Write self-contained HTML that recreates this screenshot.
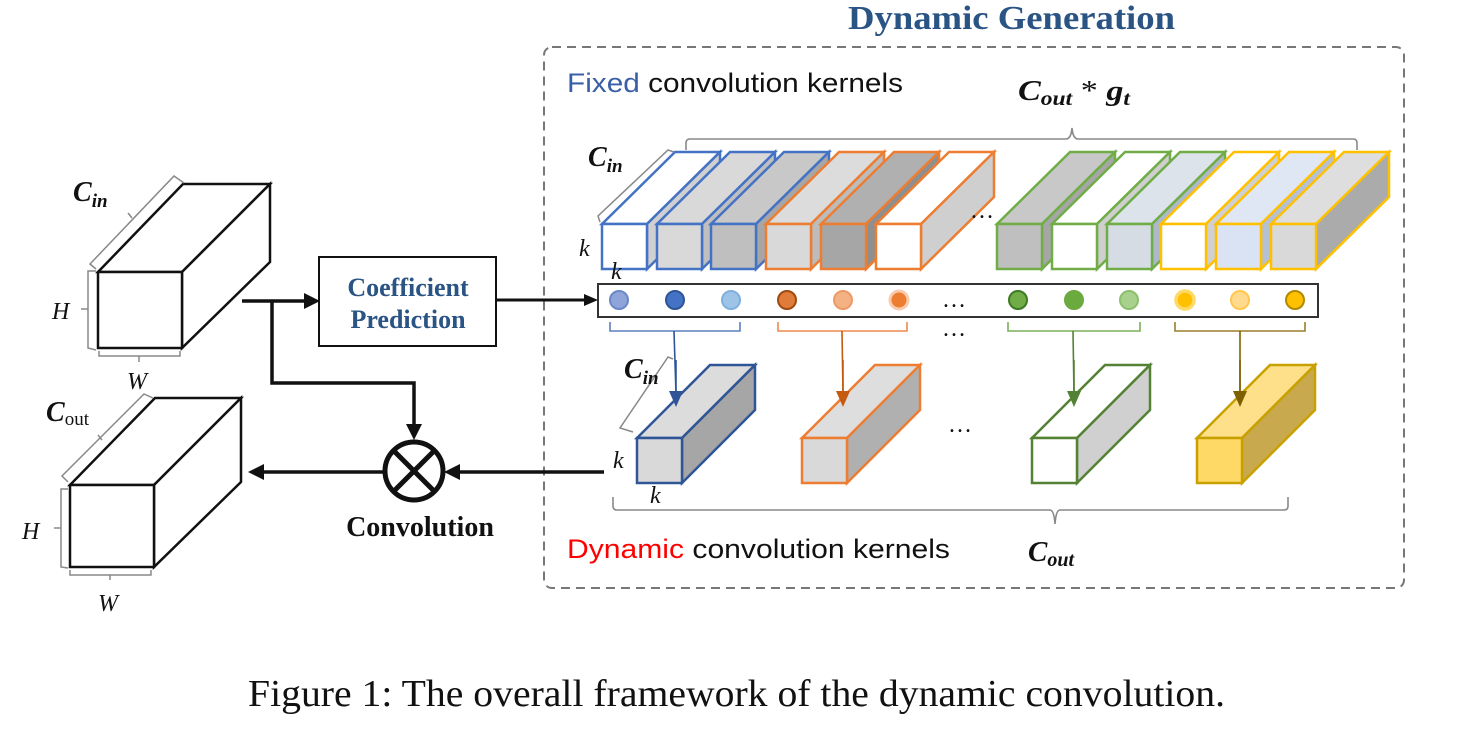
<!DOCTYPE html>
<html><head><meta charset="utf-8"><style>
html,body{margin:0;padding:0;background:#fff;}
svg{display:block;}
.sans{font-family:"Liberation Sans","DejaVu Sans",sans-serif;}
.serif{font-family:"Liberation Serif","DejaVu Serif",serif;}
.m{font-family:"Liberation Serif","DejaVu Serif",serif;font-style:italic;}
</style></head><body>
<svg width="1460" height="732" viewBox="0 0 1460 732" xmlns="http://www.w3.org/2000/svg">

<!-- title -->
<text x="848" y="29" textLength="327" lengthAdjust="spacingAndGlyphs" class="serif" font-weight="bold" font-size="34" fill="#2a5484">Dynamic Generation</text>
<!-- dashed box -->
<rect x="544" y="47" width="860" height="541" rx="8" fill="none" stroke="#777" stroke-width="2" stroke-dasharray="9,6"/>

<text x="567" y="92" textLength="336" lengthAdjust="spacingAndGlyphs" class="sans" font-size="27"><tspan fill="#3a5fa8">Fixed</tspan> <tspan fill="#111">convolution kernels</tspan></text>
<text x="1018" y="100" textLength="112" lengthAdjust="spacingAndGlyphs" class="m" font-weight="bold" font-size="29" fill="#111">C<tspan font-size="20" dy="5">out</tspan><tspan dy="-5" font-style="normal" font-weight="normal"> * </tspan>g<tspan font-size="20" dy="5">t</tspan></text>
<!-- top brace -->
<path d="M686,150 L686,143 Q686,139 690,139 L1066,139 Q1071,139 1072,128 Q1073,139 1078,139 L1353,139 Q1357,139 1357,143 L1357,150" fill="none" stroke="#888" stroke-width="1.6"/>

<g stroke-width="2.5">
<g stroke="#4472c4"><polygon points="602,224 675,152 720,152 647,224" fill="#fff"/><polygon points="647,224 720,152 720,197 647,269" fill="#d0d0d0"/><rect x="602" y="224" width="45" height="45" fill="#fff"/></g>
<g stroke="#4472c4"><polygon points="657,224 730,152 775,152 702,224" fill="#d9d9d9"/><polygon points="702,224 775,152 775,197 702,269" fill="#bfbfbf"/><rect x="657" y="224" width="45" height="45" fill="#d9d9d9"/></g>
<g stroke="#4472c4"><polygon points="711,224 784,152 829,152 756,224" fill="#c8c8c8"/><polygon points="756,224 829,152 829,197 756,269" fill="#a6a6a6"/><rect x="711" y="224" width="45" height="45" fill="#bfbfbf"/></g>
<g stroke="#ed7d31"><polygon points="766,224 839,152 884,152 811,224" fill="#dcdcdc"/><polygon points="811,224 884,152 884,197 811,269" fill="#bcbcbc"/><rect x="766" y="224" width="45" height="45" fill="#d9d9d9"/></g>
<g stroke="#ed7d31"><polygon points="821,224 894,152 939,152 866,224" fill="#b0b0b0"/><polygon points="866,224 939,152 939,197 866,269" fill="#8f8f8f"/><rect x="821" y="224" width="45" height="45" fill="#a6a6a6"/></g>
<g stroke="#ed7d31"><polygon points="876,224 949,152 994,152 921,224" fill="#fff"/><polygon points="921,224 994,152 994,197 921,269" fill="#cfcfcf"/><rect x="876" y="224" width="45" height="45" fill="#fff"/></g>
<g stroke="#70ad47"><polygon points="997,224 1070,152 1115,152 1042,224" fill="#c8c8c8"/><polygon points="1042,224 1115,152 1115,197 1042,269" fill="#a6a6a6"/><rect x="997" y="224" width="45" height="45" fill="#bfbfbf"/></g>
<g stroke="#70ad47"><polygon points="1052,224 1125,152 1170,152 1097,224" fill="#fff"/><polygon points="1097,224 1170,152 1170,197 1097,269" fill="#cfcfcf"/><rect x="1052" y="224" width="45" height="45" fill="#fff"/></g>
<g stroke="#70ad47"><polygon points="1107,224 1180,152 1225,152 1152,224" fill="#dde3ea"/><polygon points="1152,224 1225,152 1225,197 1152,269" fill="#adb9ca"/><rect x="1107" y="224" width="45" height="45" fill="#d6dce4"/></g>
<g stroke="#ffc000"><polygon points="1161,224 1234,152 1279,152 1206,224" fill="#fff"/><polygon points="1206,224 1279,152 1279,197 1206,269" fill="#d0d0d0"/><rect x="1161" y="224" width="45" height="45" fill="#fff"/></g>
<g stroke="#ffc000"><polygon points="1216,224 1289,152 1334,152 1261,224" fill="#dfe7f5"/><polygon points="1261,224 1334,152 1334,197 1261,269" fill="#b4c0d6"/><rect x="1216" y="224" width="45" height="45" fill="#dae3f3"/></g>
<g stroke="#ffc000"><polygon points="1271,224 1344,152 1389,152 1316,224" fill="#dedede"/><polygon points="1316,224 1389,152 1389,197 1316,269" fill="#ababab"/><rect x="1271" y="224" width="45" height="45" fill="#d9d9d9"/></g>
</g>
<text x="970" y="218" class="serif" font-size="24" fill="#111">…</text>
<path d="M600,222 L598,216 L668,150 L674,152" fill="none" stroke="#888" stroke-width="1.5"/>
<text x="588" y="166" class="m" font-weight="bold" font-size="28" fill="#111">C<tspan font-size="19" dy="6">in</tspan></text>
<text x="579" y="256" class="m" font-size="24" fill="#111">k</text>
<text x="611" y="279" class="m" font-size="24" fill="#111">k</text>

<!-- coefficient bar -->
<rect x="598" y="284" width="720" height="33" fill="#fff" stroke="#333" stroke-width="2"/>
<g stroke-width="2">
<circle cx="619" cy="300" r="9" fill="#8fa4d8" stroke="#6a88c8"/>
<circle cx="675" cy="300" r="9" fill="#4472c4" stroke="#2f5597"/>
<circle cx="731" cy="300" r="9" fill="#9dc3e6" stroke="#7fb0de"/>
<circle cx="787" cy="300" r="9" fill="#e07b39" stroke="#a04a10"/>
<circle cx="843" cy="300" r="9" fill="#f4b183" stroke="#ed9a66"/>
<circle cx="899" cy="300" r="9" fill="#ed7d31" stroke="#f8cbad" stroke-width="3"/>
<circle cx="1018" cy="300" r="9" fill="#70ad47" stroke="#3f7a24"/>
<circle cx="1074" cy="300" r="9" fill="#6aaa3f" stroke="#6aaa3f"/>
<circle cx="1129" cy="300" r="9" fill="#a9d18e" stroke="#8cc06e"/>
<circle cx="1185" cy="300" r="9" fill="#ffc000" stroke="#ffd966" stroke-width="3.5"/>
<circle cx="1240" cy="300" r="9" fill="#ffd98e" stroke="#ffc84a"/>
<circle cx="1295" cy="300" r="9" fill="#ffc000" stroke="#b08a00"/>
</g>
<text x="942" y="307" class="serif" font-size="24" fill="#111">…</text>
<text x="942" y="336" class="serif" font-size="24" fill="#111">…</text>

<g fill="none" stroke-width="1.6">
<path d="M610,322 L610,331 L740,331 L740,322" stroke="#5b7fc0"/>
<path d="M778,322 L778,331 L907,331 L907,322" stroke="#ed8a4d"/>
<path d="M1008,322 L1008,331 L1140,331 L1140,322" stroke="#7caf5a"/>
<path d="M1175,322 L1175,331 L1305,331 L1305,322" stroke="#9c7e2a"/>
<line x1="674" y1="331" x2="676" y2="394" stroke="#2f5597"/>
<line x1="842" y1="331" x2="843" y2="394" stroke="#c55a11"/>
<line x1="1073" y1="331" x2="1074" y2="394" stroke="#548235"/>
<line x1="1240" y1="331" x2="1240" y2="394" stroke="#7f6000"/>
</g>

<!-- dynamic kernels -->
<g stroke-width="2.5">
<g stroke="#2f5597"><polygon points="637,438 710,365 755,365 682,438" fill="#dcdcdc"/><polygon points="682,438 755,365 755,410 682,483" fill="#a6a6a6"/><rect x="637" y="438" width="45" height="45" fill="#d9d9d9"/></g>
<g stroke="#ed7d31"><polygon points="802,438 875,365 920,365 847,438" fill="#dedede"/><polygon points="847,438 920,365 920,410 847,483" fill="#b0b0b0"/><rect x="802" y="438" width="45" height="45" fill="#d9d9d9"/></g>
<g stroke="#548235"><polygon points="1032,438 1105,365 1150,365 1077,438" fill="#fff"/><polygon points="1077,438 1150,365 1150,410 1077,483" fill="#d0d0d0"/><rect x="1032" y="438" width="45" height="45" fill="#fff"/></g>
<g stroke="#c8a000"><polygon points="1197,438 1270,365 1315,365 1242,438" fill="#ffe08a"/><polygon points="1242,438 1315,365 1315,410 1242,483" fill="#c9a94e"/><rect x="1197" y="438" width="45" height="45" fill="#ffd966"/></g>
</g>
<line x1="676" y1="360" x2="676" y2="394" stroke="#2f5597" stroke-width="1.6"/>
<line x1="843" y1="360" x2="843" y2="394" stroke="#c55a11" stroke-width="1.6"/>
<line x1="1074" y1="360" x2="1074" y2="394" stroke="#548235" stroke-width="1.6"/>
<line x1="1240" y1="360" x2="1240" y2="394" stroke="#7f6000" stroke-width="1.6"/>
<polygon points="669,391 683,391 676,407" fill="#2f5597"/>
<polygon points="836,391 850,391 843,407" fill="#c55a11"/>
<polygon points="1067,391 1081,391 1074,407" fill="#548235"/>
<polygon points="1233,391 1247,391 1240,407" fill="#7f6000"/>
<path d="M633,432 L620,428 L668,357 L673,359" fill="none" stroke="#888" stroke-width="1.5"/>
<text x="624" y="378" class="m" font-weight="bold" font-size="28" fill="#111">C<tspan font-size="19" dy="6">in</tspan></text>
<text x="613" y="468" class="m" font-size="24" fill="#111">k</text>
<text x="650" y="503" class="m" font-size="24" fill="#111">k</text>
<text x="948" y="432" class="serif" font-size="24" fill="#111">…</text>

<!-- bottom brace -->
<path d="M613,497 L613,506 Q613,510 617,510 L1050,510 Q1054,510 1055,524 Q1056,510 1060,510 L1284,510 Q1288,510 1288,506 L1288,497" fill="none" stroke="#888" stroke-width="1.6"/>
<text x="567" y="558" textLength="383" lengthAdjust="spacingAndGlyphs" class="sans" font-size="27"><tspan fill="#ff0000">Dynamic</tspan> <tspan fill="#111">convolution kernels</tspan></text>
<text x="1028" y="561" class="m" font-weight="bold" font-size="29" fill="#111">C<tspan font-size="20" dy="5">out</tspan></text>

<!-- left input box -->
<g stroke="#111" stroke-width="2.5" fill="#fff">
<polygon points="98,272 183,184 270,184 182,272"/>
<polygon points="182,272 270,184 270,262 182,348"/>
<rect x="98" y="272" width="84" height="76"/>
</g>
<g fill="none" stroke="#888" stroke-width="1.5">
<path d="M96,269 L90,264 L174,176 L184,183"/>
<path d="M128,213 L132,218"/>
<path d="M96,271 L88,271 L88,348 L96,350 M88,309 L81,309"/>
<path d="M99,351 L99,356 L180,356 L180,351 M139,356 L139,362"/>
</g>
<text x="73" y="201" class="m" font-weight="bold" font-size="28" fill="#111">C<tspan font-size="19" dy="6">in</tspan></text>
<text x="52" y="319" class="m" font-size="24" fill="#111">H</text>
<text x="127" y="389" class="m" font-size="24" fill="#111">W</text>

<!-- output box -->
<g stroke="#111" stroke-width="2.5" fill="#fff">
<polygon points="70,485 155,398 241,398 154,485"/>
<polygon points="154,485 241,398 241,482 154,567"/>
<rect x="70" y="485" width="84" height="82"/>
</g>
<g fill="none" stroke="#888" stroke-width="1.5">
<path d="M68,482 L62,476 L144,394 L153,398"/>
<path d="M98,435 L102,440"/>
<path d="M68,489 L61,489 L61,567 L68,568 M61,528 L54,528"/>
<path d="M70,570 L70,575 L151,575 L151,570 M110,575 L110,580"/>
</g>
<text x="46" y="421" class="m" font-weight="bold" font-size="28" fill="#111">C<tspan font-size="19" font-style="normal" font-weight="normal" dy="4">out</tspan></text>
<text x="22" y="539" class="m" font-size="24" fill="#111">H</text>
<text x="98" y="611" class="m" font-size="24" fill="#111">W</text>

<!-- flow -->
<g stroke="#111" stroke-width="3.5" fill="none">
<line x1="242" y1="301" x2="305" y2="301"/>
<path d="M272,301 L272,383 L414,383 L414,425"/>
<line x1="383" y1="472" x2="262" y2="472"/>
<line x1="604" y1="472" x2="458" y2="472"/>
<line x1="497" y1="300" x2="585" y2="300" stroke-width="3"/>
</g>
<polygon points="304,293 320,301 304,309" fill="#111"/>
<polygon points="406,424 422,424 414,440" fill="#111"/>
<polygon points="264,464 248,472 264,480" fill="#111"/>
<polygon points="460,464 444,472 460,480" fill="#111"/>
<polygon points="584,294 598,300 584,306" fill="#111"/>
<rect x="319" y="257" width="177" height="89" fill="#fff" stroke="#111" stroke-width="2"/>
<text x="408" y="296" text-anchor="middle" class="serif" font-weight="bold" font-size="26" fill="#2a5484">Coefficient</text>
<text x="408" y="328" text-anchor="middle" class="serif" font-weight="bold" font-size="26" fill="#2a5484">Prediction</text>
<circle cx="414" cy="471" r="29" fill="#fff" stroke="#111" stroke-width="5"/>
<path d="M394,451 L434,491 M434,451 L394,491" stroke="#111" stroke-width="5"/>
<text x="420" y="536" text-anchor="middle" class="serif" font-weight="bold" font-size="28" fill="#111">Convolution</text>

<!-- caption -->
<text x="248" y="706" textLength="977" lengthAdjust="spacingAndGlyphs" class="serif" font-size="38" fill="#111">Figure 1: The overall framework of the dynamic convolution.</text>
</svg>
</body></html>
